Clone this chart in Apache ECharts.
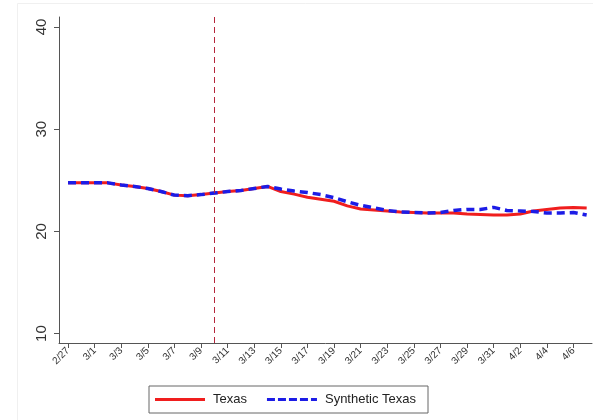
<!DOCTYPE html>
<html>
<head>
<meta charset="utf-8">
<script src="https://cdn.jsdelivr.net/npm/echarts@6/dist/echarts.min.js"></script>
<style>
html,body{margin:0;padding:0;background:#fff;}
#chart{width:593px;height:420px;}
</style>
</head>
<body>
<div id="chart"></div>
<script>
const dates = ['2/27','2/28','3/1','3/2','3/3','3/4','3/5','3/6','3/7','3/8','3/9','3/10','3/11','3/12','3/13','3/14','3/15','3/16','3/17','3/18','3/19','3/20','3/21','3/22','3/23','3/24','3/25','3/26','3/27','3/28','3/29','3/30','3/31','4/1','4/2','4/3','4/4','4/5','4/6','4/7'];
const tickLabels = ['2/27','3/1','3/3','3/5','3/7','3/9','3/11','3/13','3/15','3/17','3/19','3/21','3/23','3/25','3/27','3/29','3/31','4/2','4/4','4/6'];
const yTicks = [10, 20, 30, 40];
const texas = [24.75,24.75,24.75,24.75,24.55,24.4,24.2,23.9,23.55,23.5,23.6,23.75,23.9,24.0,24.2,24.4,
  23.9,23.65,23.35,23.15,22.95,22.5,22.2,22.1,22.0,21.9,21.85,21.8,21.8,21.8,21.7,21.65,21.6,21.6,21.7,22.0,22.15,22.3,22.35,22.3];
const synthetic = [24.75,24.75,24.75,24.75,24.55,24.4,24.2,23.9,23.55,23.5,23.6,23.75,23.9,24.0,24.2,24.4,
  24.15,23.95,23.8,23.6,23.3,22.9,22.55,22.3,22.05,21.9,21.85,21.8,21.85,22.05,22.15,22.15,22.35,22.05,22.0,21.95,21.8,21.8,21.85,21.6];
const treatmentDate = '3/10';

const tickIdx = tickLabels.map(l => dates.indexOf(l));
const treatIdx = dates.indexOf(treatmentDate);
const toPairs = arr => arr.map((v, i) => [i, v]);

const chart = echarts.init(document.getElementById('chart'));
const font = "'Liberation Sans', Arial, sans-serif";
chart.setOption({
  animation: false,
  backgroundColor: '#fff',
  graphic: [{
    type: 'rect', left: 15, top: 1, z: -1,
    shape: { width: 577, height: 417 },
    style: { fill: 'none', stroke: '#f0f0f0', lineWidth: 1 }
  }],
  grid: { left: 59, top: 17, right: 1, bottom: 77, containLabel: false, outerBoundsMode: 'none' },
  xAxis: {
    type: 'value', min: -0.68, max: 39.4,
    splitLine: { show: false },
    axisLine: { onZero: false, lineStyle: { color: '#555', width: 1 } },
    axisTick: { show: true, customValues: tickIdx, length: 5, lineStyle: { color: '#555' } },
    axisLabel: {
      customValues: tickIdx, rotate: 45, fontSize: 10, color: '#333', fontFamily: font, margin: 6,
      hideOverlap: false,
      formatter: v => dates[Math.round(v)]
    }
  },
  yAxis: {
    type: 'value', min: 9.08, max: 40.98,
    splitLine: { show: false },
    axisLine: { show: true, onZero: false, lineStyle: { color: '#555', width: 1 } },
    axisTick: { show: true, customValues: yTicks, length: 5, lineStyle: { color: '#555' } },
    axisLabel: {
      customValues: yTicks, rotate: 90, fontSize: 15, color: '#333', fontFamily: font, margin: 10,
      align: 'center', verticalAlign: 'bottom'
    }
  },
  legend: {
    left: 149, top: 386, orient: 'horizontal',
    borderColor: '#666', borderWidth: 1, borderRadius: 0,
    padding: [7, 12, 7, 6], itemWidth: 50, itemHeight: 10, itemGap: 20,
    textStyle: { fontSize: 13, color: '#222', fontFamily: font, padding: [0, 0, 0, 3] },
    data: [
      { name: 'Texas', icon: 'path://M0,0 L50,0 L50,3 L0,3 Z' },
      { name: 'Synthetic Texas', icon: 'path://M0,0 L8,0 L8,3 L0,3 Z M11,0 L19,0 L19,3 L11,3 Z M22,0 L30,0 L30,3 L22,3 Z M33,0 L41,0 L41,3 L33,3 Z M44,0 L50,0 L50,3 L44,3 Z' }
    ]
  },
  series: [
    {
      name: 'Texas', type: 'line', data: toPairs(texas), symbol: 'none',
      lineStyle: { color: '#f01e1e', width: 3 }, itemStyle: { color: '#f01e1e' },
      markLine: {
        silent: true, symbol: 'none', label: { show: false },
        lineStyle: { color: '#b5253a', width: 1, type: [6, 4] },
        data: [{ xAxis: treatIdx }]
      }
    },
    {
      name: 'Synthetic Texas', type: 'line', data: toPairs(synthetic), symbol: 'none',
      lineStyle: { color: '#1c1ce6', width: 3.5, type: [8, 5] }, itemStyle: { color: '#1c1ce6' }
    }
  ]
});
</script>
</body>
</html>
